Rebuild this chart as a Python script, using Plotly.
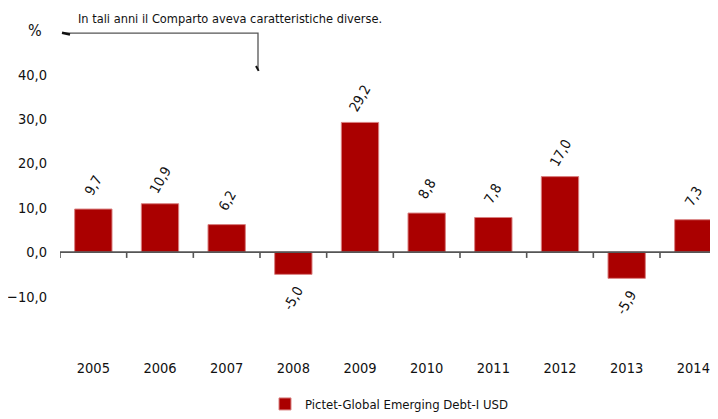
import plotly.graph_objects as go

years = ["2005", "2006", "2007", "2008", "2009", "2010", "2011", "2012", "2013", "2014"]
values = [9.7, 10.9, 6.2, -5.0, 29.2, 8.8, 7.8, 17.0, -5.9, 7.3]
y_ticks = [-10, 0, 10, 20, 30, 40]
series_name = "Pictet-Global Emerging Debt-I USD"
note = "In tali anni il Comparto aveva caratteristiche diverse."

FONT = "Liberation Sans Narrow, DejaVu Sans Condensed, Arial Narrow, sans-serif"
RED = "#AA0000"

fig = go.Figure()
fig.add_trace(go.Bar(
    x=list(range(len(years))), y=values, name=series_name,
    marker=dict(color=RED, line=dict(color="#D98080", width=1)),
    showlegend=True,
))

annotations = []
for i, v in enumerate(values):
    annotations.append(dict(
        x=i, y=v, xref="x", yref="y", text=f"{v:.1f}".replace(".", ","),
        showarrow=False, textangle=-60, yshift=24 if v >= 0 else -24,
        xanchor="center", yanchor="middle",
        font=dict(size=14, color="#111"),
    ))

shapes = [
    dict(type="line", xref="x", yref="y", x0=-0.5, x1=9.5, y0=0, y1=0,
         line=dict(color="#555", width=1.6)),
]
for i in range(len(years)):
    b = i - 0.5
    shapes.append(dict(type="line", xref="x", yref="y", x0=b, x1=b, y0=0, y1=-1.3,
                       line=dict(color="#555", width=1.6)))
# bracket for the note
shapes.append(dict(type="path", xref="x", yref="y",
                   path="M -0.47 49.3 L 2.47 49.3 L 2.47 41.2",
                   line=dict(color="#555", width=1.3)))
shapes.append(dict(type="line", xref="x", yref="y", x0=-0.47, x1=-0.35, y0=49.4, y1=49.0,
                   line=dict(color="#111", width=2.5)))
shapes.append(dict(type="line", xref="x", yref="y", x0=2.44, x1=2.48, y0=41.9, y1=40.8,
                   line=dict(color="#111", width=2)))

annotations += [
    dict(text="%", xref="paper", yref="paper", x=-0.025, y=1.0, xanchor="right",
         yanchor="middle", showarrow=False, font=dict(size=16)),
    dict(text=note, xref="x", yref="paper", x=-0.26, y=1.036, xanchor="left",
         yanchor="middle", showarrow=False, font=dict(size=12.7)),
]

fig.update_layout(
    width=710, height=411,
    margin=dict(l=52, r=0, t=22, b=78),
    paper_bgcolor="white", plot_bgcolor="white",
    separators=", ",
    font=dict(family=FONT, size=14, color="#111"),
    bargap=0.44,
    shapes=shapes,
    xaxis=dict(range=[-0.5, 9.37], tickmode="array", tickvals=list(range(len(years))),
               ticktext=years, showgrid=False, zeroline=False, showline=False,
               ticks="", ticklabelstandoff=16, tickfont=dict(size=14.5), automargin=False),
    yaxis=dict(range=[-20, 50], tickmode="array", tickvals=y_ticks,
               tickformat=".1f", showgrid=False, zeroline=False, showline=False,
               ticks="", ticklabelstandoff=12, tickfont=dict(size=14.5), automargin=False),
    legend=dict(orientation="h", x=0.5, xanchor="center", y=-0.012, yref="container",
                yanchor="bottom", font=dict(size=13), itemwidth=30),
    annotations=annotations,
)

fig.write_html("out.html")
